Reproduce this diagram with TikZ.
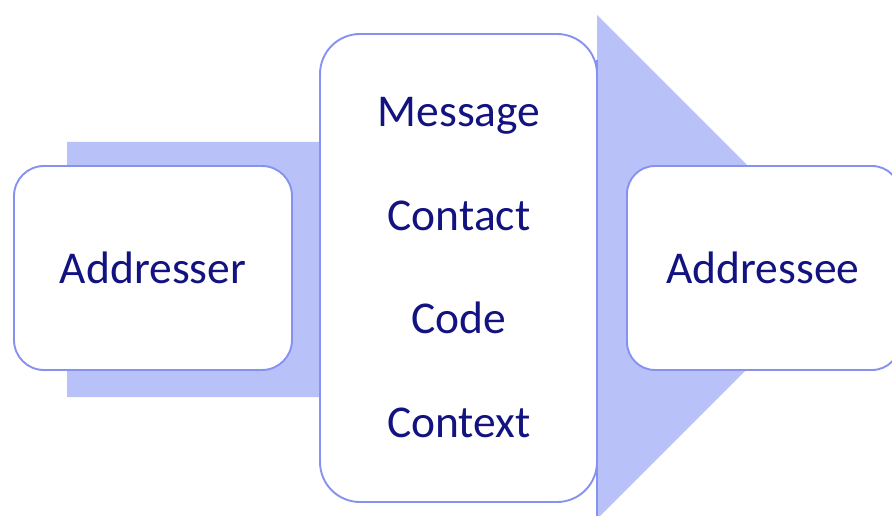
\documentclass[tikz,border=0pt]{standalone}
\usepackage{fontspec}
\setmainfont{Carlito}
\definecolor{arrowfill}{HTML}{B9C1F9}
\definecolor{boxline}{HTML}{8791F0}
\definecolor{txt}{HTML}{121280}
\tikzset{
  box/.style={draw=boxline, line width=1.9pt, fill=white, rounded corners=#1},
  box/.default=30pt,
  lbl/.style={text=txt, font=\fontsize{45.5}{50}\selectfont, anchor=base, inner sep=0pt}
}
\begin{document}
\begin{tikzpicture}[x=1pt,y=-1pt]
\useasboundingbox (0,0) rectangle (892,516);
\begin{scope}
\clip (0,0) rectangle (892,516);
% big arrow
\fill[arrowfill] (67,142) -- (597,142) -- (597,15) -- (849,267) -- (597,519) -- (597,397) -- (67,397) -- cycle;
\draw[boxline, line width=1.4pt] (597,60) -- (597,516);
% boxes
\draw[box=30pt] (14,166) rectangle (292,370);
\draw[box=40pt] (320,34) rectangle (597,502);
\draw[box=28pt] (627,166) rectangle (900,370);
\end{scope}
\node[lbl] (addresser) at (153,283) {Addresser};
\node[lbl] (message) at (459,127) {Message};
\node[lbl] (contact) at (459,230) {Contact};
\node[lbl] (code) at (459,333) {Code};
\node[lbl] (context) at (459,437) {Context};
\node[lbl] (addressee) at (763,283) {Addressee};
\end{tikzpicture}
\end{document}
